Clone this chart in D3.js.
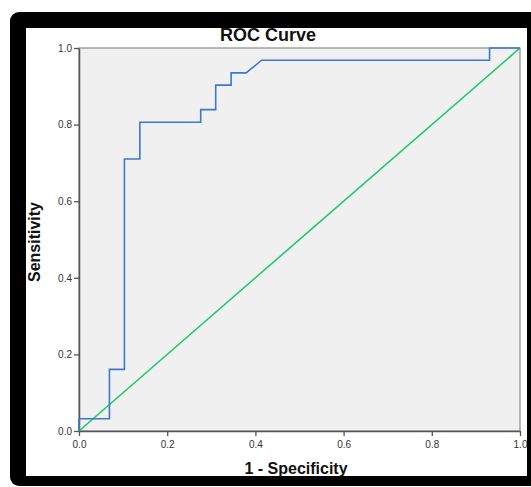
<!DOCTYPE html>
<html>
<head>
<meta charset="utf-8">
<script src="https://cdn.jsdelivr.net/npm/d3@7"></script>
<style>
  html, body { margin: 0; padding: 0; background: #fff; }
  svg { display: block; }
</style>
</head>
<body>
<div id="chart"></div>
<script>
// ROC curve points (1 - specificity, sensitivity)
const fpr = [0, 0, 0.069, 0.069, 0.103, 0.103, 0.138, 0.138, 0.276, 0.276, 0.310, 0.310, 0.345, 0.345, 0.379, 0.414, 0.931, 0.931, 1];
const tpr = [0, 0.032, 0.032, 0.161, 0.161, 0.710, 0.710, 0.806, 0.806, 0.839, 0.839, 0.903, 0.903, 0.935, 0.935, 0.968, 0.968, 1, 1];
const refLine = [[0, 0], [1, 1]];
const tickValues = [0, 0.2, 0.4, 0.6, 0.8, 1.0];

const width = 531, height = 487;
const svg = d3.select('#chart').append('svg')
  .attr('width', width).attr('height', height);

// black frame around the output
svg.append('rect')
  .attr('x', 10).attr('y', 12).attr('width', 540).attr('height', 474)
  .attr('rx', 9).attr('fill', '#000');
svg.append('rect')
  .attr('x', 26).attr('y', 28).attr('width', 501).attr('height', 448)
  .attr('fill', '#fff');

const plot = { left: 79, right: 520, top: 48, bottom: 431 };
const x = d3.scaleLinear().domain([0, 1]).range([plot.left, plot.right]);
const y = d3.scaleLinear().domain([0, 1]).range([plot.bottom, plot.top]);

// plot background
svg.append('rect')
  .attr('x', plot.left).attr('y', plot.top)
  .attr('width', plot.right - plot.left).attr('height', plot.bottom - plot.top)
  .attr('fill', '#f0f0f0')
  .attr('stroke', '#8c8c8c').attr('stroke-width', 1.2);

// axes
const fmt = d3.format('.1f');
const xAxis = svg.append('g')
  .attr('transform', `translate(0,${plot.bottom})`)
  .call(d3.axisBottom(x).tickValues(tickValues).tickFormat(fmt).tickSize(5).tickSizeOuter(0));
const yAxis = svg.append('g')
  .attr('transform', `translate(${plot.left},0)`)
  .call(d3.axisLeft(y).tickValues(tickValues).tickFormat(fmt).tickSize(5).tickSizeOuter(0));

[xAxis, yAxis].forEach(g => {
  g.select('.domain').attr('stroke', '#555').attr('stroke-width', 1.5);
  g.selectAll('.tick line').attr('stroke', '#555').attr('stroke-width', 1.3);
  g.selectAll('.tick text')
    .attr('fill', '#333')
    .attr('font-size', '10px')
    .attr('font-family', 'Liberation Sans, Arial, sans-serif');
});
xAxis.selectAll('.tick text').attr('dy', '0.9em');
yAxis.selectAll('.tick text').attr('dx', '0.1em');

// reference diagonal
svg.append('path')
  .datum(refLine)
  .attr('d', d3.line().x(d => x(d[0])).y(d => y(d[1])))
  .attr('fill', 'none')
  .attr('stroke', '#1ec86c')
  .attr('stroke-width', 1.6);

// ROC curve
const rocPts = fpr.map((v, i) => [v, tpr[i]]);
svg.append('path')
  .datum(rocPts)
  .attr('d', d3.line().x(d => x(d[0])).y(d => y(d[1])))
  .attr('fill', 'none')
  .attr('stroke', '#3b78d0')
  .attr('stroke-width', 1.6);

// title and axis labels
svg.append('text')
  .attr('x', 268).attr('y', 41)
  .attr('text-anchor', 'middle')
  .attr('font-family', 'Liberation Sans, Arial, sans-serif')
  .attr('font-size', '18px').attr('font-weight', 'bold')
  .attr('fill', '#111')
  .text('ROC Curve');

svg.append('text')
  .attr('x', 296).attr('y', 474)
  .attr('text-anchor', 'middle')
  .attr('font-family', 'Liberation Sans, Arial, sans-serif')
  .attr('font-size', '16px').attr('font-weight', 'bold')
  .attr('fill', '#111')
  .text('1 - Specificity');

svg.append('text')
  .attr('transform', `translate(40,242) rotate(-90)`)
  .attr('text-anchor', 'middle')
  .attr('font-family', 'Liberation Sans, Arial, sans-serif')
  .attr('font-size', '16px').attr('font-weight', 'bold')
  .attr('fill', '#111')
  .text('Sensitivity');
</script>
</body>
</html>
